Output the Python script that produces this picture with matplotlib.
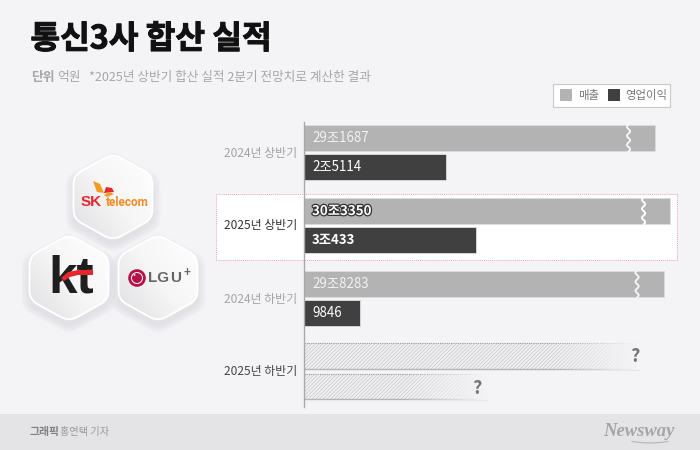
import numpy as np
import matplotlib
matplotlib.use("Agg")
import matplotlib.pyplot as plt
import matplotlib.patheffects as pe
from matplotlib.patches import PathPatch, Rectangle, Polygon, Circle
from matplotlib.path import Path
from matplotlib.colors import LinearSegmentedColormap

plt.rcParams['font.family'] = ['Noto Sans CJK KR', 'DejaVu Sans']

# ---- data ----
periods = ['2024년 상반기', '2025년 상반기', '2024년 하반기', '2025년 하반기']
revenue = [291687, 303350, 298283]
profit = [25114, 30433, 9846]
revenue_labels = ['29조1687', '30조3350', '29조8283']
profit_labels = ['2조5114', '3조433', '9846']
forecast_revenue = 277800   # unknown, drawn length only
forecast_profit = 33400     # unknown, drawn length only
title = '통신3사 합산 실적'
note = '*2025년 상반기 합산 실적 2분기 전망치로 계산한 결과'

BG = '#f4f4f7'
LIGHT = '#b3b3b3'
DARK = '#404040'

fig = plt.figure(figsize=(7, 4.5), dpi=100, facecolor=BG)

# full-figure pixel canvas for page furniture
pg = fig.add_axes([0, 0, 1, 1], zorder=0)
pg.set_xlim(0, 700)
pg.set_ylim(450, 0)
pg.axis('off')

pg.add_patch(Rectangle((0, 414), 700, 36, fc='#e4e4e6', ec='none'))
pg.add_patch(Rectangle((215.5, 193.5), 461.5, 66, fc='white', ec='#f0a8b0', lw=0.7, ls=(0, (1, 1))))

pg.text(30.5, 39, title, fontsize=23.2, fontweight='black', color='#111111', va='center', ha='left',
        path_effects=[pe.withStroke(linewidth=0.7, foreground='#111111')])
pg.text(31, 77, '단위', fontsize=9.2, fontweight='bold', color='#a6a6a6', va='center')
pg.text(57, 77, '억원', fontsize=9.2, color='#a6a6a6', va='center')
pg.text(89, 77, note, fontsize=9.1, color='#a6a6a6', va='center')

# legend
pg.add_patch(Rectangle((553, 83.5), 116.5, 23, fc='white', ec='#c8c8c8', lw=0.8))
pg.add_patch(Rectangle((560, 89), 12, 12, fc=LIGHT, ec='none'))
pg.add_patch(Rectangle((608, 89), 12, 12, fc=DARK, ec='none'))
pg.text(578, 95, '매출', fontsize=8.2, color='#777777', va='center')
pg.text(625, 95, '영업이익', fontsize=8.2, color='#777777', va='center')

# footer
pg.text(30, 431.5, '그래픽', fontsize=7.8, fontweight='bold', color='#808080', va='center')
pg.text(60, 431.5, '홍연택 기자', fontsize=7.3, color='#9a9a9a', va='center')
pg.text(603, 431, 'Newsway', fontsize=13.4, family='Liberation Serif', style='italic', fontweight='bold',
        color='#a5a5a8', va='center')
pg.plot(np.linspace(632, 668, 30), 441.5 + 1.5*np.sin(np.linspace(0, np.pi, 30)), color='#b5b5b8', lw=0.8)

# logos
def hexagon(cx, cy, rx=39.5, ry=43.5, r=9):
    v = np.array([(0, -ry), (rx, -ry*0.5), (rx, ry*0.5), (0, ry), (-rx, ry*0.5), (-rx, -ry*0.5)], float)
    verts, codes = [], []
    for i in range(6):
        p0, p1, p2 = v[i-1], v[i], v[(i+1) % 6]
        a = p1 + (p0-p1)/np.linalg.norm(p0-p1)*r
        b = p1 + (p2-p1)/np.linalg.norm(p2-p1)*r
        verts += [a, p1, b]
        codes += [Path.MOVETO if i == 0 else Path.LINETO, Path.CURVE3, Path.CURVE3]
    verts.append(verts[0]); codes.append(Path.CLOSEPOLY)
    return Path(np.array(verts) + [cx, cy], codes)

grad = LinearSegmentedColormap.from_list('g', ['#ffffff', '#f6f6f7', '#dedee0'])
gy, gx = np.mgrid[0:1:60j, 0:1:60j]
for cx, cy in [(113, 197), (69, 278), (158, 278)]:
    for k in range(8, 0, -1):
        pg.add_patch(PathPatch(hexagon(cx, cy + 5, 39.5 + k, 43.5 + k), fc='#8a8a90', ec='none', alpha=0.018, zorder=1))
    hp = hexagon(cx, cy)
    im = pg.imshow((1 - gx)*0.55 + gy*0.45, cmap=grad, extent=(cx-41, cx+41, cy+45, cy-45),
                   aspect='auto', zorder=2, vmin=0, vmax=1)
    patch = PathPatch(hp, fc='none', ec='none', transform=pg.transData)
    pg.add_patch(patch)
    im.set_clip_path(patch)
    pg.add_patch(PathPatch(hp, fc='none', ec='white', lw=1.4, zorder=3))
pg.set_xlim(0, 700)
pg.set_ylim(450, 0)

# SK telecom
pg.text(81, 202, 'SK', fontsize=11, fontweight='bold', family='Liberation Sans', color='#e8262d', va='center', zorder=4)
pg.text(105.5, 203, 'telecom', fontsize=8.5, fontweight='bold', family='Roboto', color='#f08a24', va='center', zorder=4)
pg.add_patch(Polygon([(93, 181), (100, 184), (104, 193), (97, 192)], fc='#f39a1f', ec='none', zorder=4))
pg.add_patch(Polygon([(104, 193), (106, 187), (112, 188), (114, 192)], fc='#e8262d', ec='none', zorder=4))
pg.add_patch(Polygon([(104, 195), (109, 192), (114, 194), (107, 197)], fc='#f39a1f', ec='none', zorder=4))

# kt
pg.text(71, 279, 'kt', fontsize=37, fontweight='bold', family='Liberation Sans', color='#1e1e1e', va='center', ha='center', zorder=4)
pg.add_patch(Polygon([(61, 278), (68, 272), (78, 270), (93, 270), (93, 275), (78, 275), (70, 277), (64, 281)],
                     fc='#e8262d', ec='none', zorder=5))

# LG U+
pg.add_patch(Circle((137, 278), 8.8, fc='#b5124a', ec='none', zorder=4))
pg.add_patch(Circle((137, 278), 5.5, fc='none', ec='white', lw=0.7, zorder=5))
pg.add_patch(Circle((134.5, 275), 0.9, fc='white', ec='none', zorder=5))
pg.text(148, 278, 'LG', fontsize=11, fontweight='bold', family='Liberation Sans', color='#666666', va='center', zorder=4)
pg.text(170.5, 278, 'U', fontsize=11, fontweight='bold', family='Liberation Sans', color='#666666', va='center', zorder=4)
pg.text(187, 273, '+', fontsize=8.5, fontweight='bold', family='Liberation Sans', color='#666666', va='center', ha='center', zorder=4)

# chart axes (y in page pixels)
X0, X1, Y0, Y1 = 304, 690, 122, 407
ax = fig.add_axes([X0/700, 1 - Y1/450, (X1-X0)/700, (Y1-Y0)/450], zorder=2)
ax.patch.set_alpha(0)

# axis break: profit in linear range, revenue in compressed upper range
val_knots = np.array([0, 40000, 285000, 320000, 360000], float)
px_knots = np.array([0, 226, 342.4, 387.6, 439.2])
ax.set_xscale('function', functions=(lambda v: np.interp(v, val_knots, px_knots),
                                     lambda p: np.interp(p, px_knots, val_knots)))
ax.set_xlim(0, np.interp(X1 - X0, px_knots, val_knots))
ax.set_ylim(Y1, Y0)
ax.set_xticks([]); ax.set_yticks([])
ax.minorticks_off()
for s in ax.spines.values():
    s.set_visible(False)
ax.spines['left'].set_visible(True)
ax.spines['left'].set_color('#a8a8a8')
ax.spines['left'].set_linewidth(1.0)

rev_y = [138, 211, 284]
pro_y = [167, 240, 313]
H = 26
ax.barh(rev_y, revenue, height=H, color=LIGHT, edgecolor='#dcdcdc', lw=0.6, zorder=2)
ax.barh(pro_y, profit, height=H, color=DARK, edgecolor='#dcdcdc', lw=0.6, zorder=2)

# forecast bars (hatched, fading out)
fy = [356, 386.5]
fvals = [forecast_revenue, forecast_profit]
plt.rcParams['hatch.linewidth'] = 0.4
for y, v in zip(fy, fvals):
    end = np.interp(v, val_knots, px_knots)
    ax.barh(y, v, height=H, facecolor='#f0f0f2', edgecolor='#bdbdbd', lw=0, hatch='/////////', zorder=1)
    ax.plot([0, v*0.97], [y + H/2, y + H/2], color='#b5b5b5', lw=1.0, zorder=2)
    ax.plot([0, v*0.97], [y - H/2, y - H/2], color='#9c9c9c', lw=0.8, ls=(0, (1, 1)), zorder=2)
    fade = np.linspace(0, 1, 128).reshape(1, -1)
    rgba = np.ones((1, 128, 4))
    rgba[..., :3] = matplotlib.colors.to_rgb(BG)
    rgba[..., 3] = np.clip((fade - 0.4) / 0.55, 0, 1)
    pg2 = X0 + end
    ov = fig.add_axes([(pg2 - 150)/700, 1 - (y + H/2 + 1)/450, 152/700, (H + 2)/450], zorder=3)
    ov.imshow(rgba, aspect='auto', interpolation='bilinear')
    ov.axis('off')
    ov.patch.set_alpha(0)

tx = fig.add_axes([0, 0, 1, 1], zorder=4)
tx.set_xlim(0, 700); tx.set_ylim(450, 0); tx.axis('off'); tx.patch.set_alpha(0)

# squiggle break marks and value labels
for i, (y, v) in enumerate(zip(rev_y, revenue)):
    xb = X0 + np.interp(v, val_knots, px_knots) - 26.5
    t = np.linspace(-13.5, 13.5, 60)
    fill = 'white' if i == 1 else BG
    tx.plot(xb + 1.6*np.sin(t/13.5*2*np.pi*1.5), y + t, color=fill, lw=1.4)

lab_kw = dict(va='center', ha='left', fontsize=9.6)
for i, (y, lab) in enumerate(zip(rev_y, revenue_labels)):
    if i == 1:
        tx.text(312, y, lab, fontweight='bold', color='white',
                path_effects=[pe.withStroke(linewidth=1.8, foreground='#333333')], **lab_kw)
    else:
        tx.text(312, y, lab, color='#f2f2f2', **lab_kw)
for i, (y, lab) in enumerate(zip(pro_y, profit_labels)):
    tx.text(312, y, lab, color='white', fontweight='bold' if i == 1 else 'normal', **lab_kw)

tx.text(634.5, 357, '?', fontsize=13, fontweight='bold', color='#757575', ha='center', va='center')
tx.text(477, 388, '?', fontsize=13, fontweight='bold', color='#757575', ha='center', va='center')

label_y = [153, 226, 299, 371]
label_col = ['#a3a3a3', '#333333', '#a3a3a3', '#444444']
label_wt = ['normal', 'medium', 'normal', 'medium']
for y, lab, c, w in zip(label_y, periods, label_col, label_wt):
    tx.text(297, y, lab, fontsize=8.6, color=c, ha='right', va='center', fontweight=w)

fig.savefig('out.png', dpi=100, facecolor=BG)
